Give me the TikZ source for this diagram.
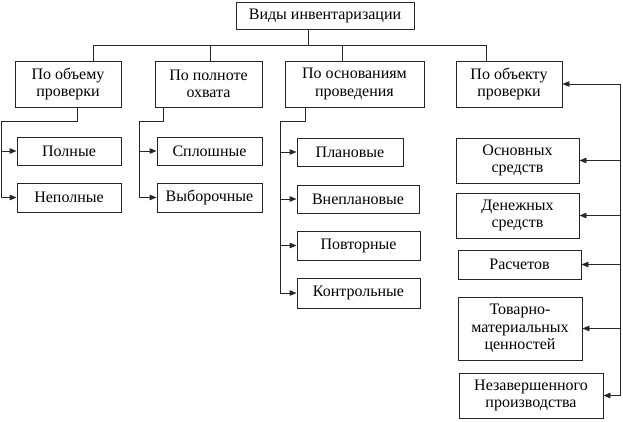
\documentclass[tikz,border=0pt]{standalone}
\usepackage{fontspec}
\setmainfont{Liberation Serif}
\usetikzlibrary{arrows.meta,calc}
\begin{document}
\begin{tikzpicture}[x=1pt,y=-1pt,
  box/.style={draw=black!85, line width=0.9pt, inner sep=0pt, align=center,
    font=\fontsize{16}{17.5}\selectfont, text=black},
  ln/.style={line width=0.9pt, draw=black!85},
  arr/.style={ln, -{Triangle[length=7pt,width=5.5pt]}}]
\useasboundingbox (0,0) rectangle (623,421);
% top
\node[box, minimum width=178pt, minimum height=27pt] (top) at (325,15.5) {Виды инвентаризации};
% level 1
\node[box, minimum width=106pt, minimum height=46pt] (b1) at (68,84) {По объему\\проверки};
\node[box, minimum width=107pt, minimum height=46pt] (b2) at (208.5,84) {По полноте\\охвата};
\node[box, minimum width=139pt, minimum height=46pt] (b3) at (354.5,84) {По основаниям\\проведения};
\node[box, minimum width=106pt, minimum height=46pt] (b4) at (509,84) {По объекту\\проверки};
% bus
\coordinate (bus) at (0,45);
\draw[ln] ([xshift=-17pt]top.south) -- ([xshift=-17pt]top.south |- bus);
\draw[ln] ([xshift=25pt]b1.north |- bus) -- ([xshift=-23pt]b4.north |- bus);
\draw[ln] ([xshift=25pt]b1.north |- bus) -- ([xshift=25pt]b1.north);
\draw[ln] ([xshift=1.5pt]b2.north |- bus) -- ([xshift=1.5pt]b2.north);
\draw[ln] ([xshift=-12.5pt]b3.north |- bus) -- ([xshift=-12.5pt]b3.north);
\draw[ln] ([xshift=-23pt]b4.north |- bus) -- ([xshift=-23pt]b4.north);
% group 1
\node[box, minimum width=104pt, minimum height=28pt] (p1) at (69,151) {Полные};
\node[box, minimum width=104pt, minimum height=29pt] (p2) at (69,197.5) {Неполные};
\coordinate (s1) at (1,121);
\draw[ln] ([xshift=9pt]b1.south) |- (s1) -- (s1 |- p2.west);
\draw[arr] (s1 |- p1.west) -- (p1.west);
\draw[arr] (s1 |- p2.west) -- (p2.west);
% group 2
\node[box, minimum width=105pt, minimum height=28pt] (q1) at (209.5,151) {Сплошные};
\node[box, minimum width=105pt, minimum height=29pt] (q2) at (209.5,197.5) {Выборочные};
\coordinate (s2) at (139,121);
\draw[ln] ([xshift=-45.5pt]b2.south) |- (s2) -- (s2 |- q2.west);
\draw[arr] (s2 |- q1.west) -- (q1.west);
\draw[arr] (s2 |- q2.west) -- (q2.west);
% group 3
\node[box, minimum width=106pt, minimum height=28pt] (r1) at (350,152) {Плановые};
\node[box, minimum width=122pt, minimum height=28pt] (r2) at (358,199) {Внеплановые};
\node[box, minimum width=123pt, minimum height=29pt] (r3) at (358.5,245.5) {Повторные};
\node[box, minimum width=123pt, minimum height=30pt] (r4) at (358.5,293) {Контрольные};
\coordinate (s3) at (280,121);
\draw[ln] ([xshift=-49.5pt]b3.south) |- (s3) -- (s3 |- r4.west);
\draw[arr] (s3 |- r1.west) -- (r1.west);
\draw[arr] (s3 |- r2.west) -- (r2.west);
\draw[arr] (s3 |- r3.west) -- (r3.west);
\draw[arr] (s3 |- r4.west) -- (r4.west);
% group 4
\node[box, minimum width=123pt, minimum height=45pt] (t1) at (517.5,160.5) {Основных\\средств};
\node[box, minimum width=123pt, minimum height=45pt] (t2) at (517.5,215.5) {Денежных\\средств};
\node[box, minimum width=123pt, minimum height=29pt] (t3) at (519.5,264.5) {Расчетов};
\node[box, minimum width=124pt, minimum height=63pt] (t4) at (520,328.5) {Товарно-\\материальных\\ценностей};
\node[box, minimum width=144pt, minimum height=45pt] (t5) at (531,395.5) {Незавершенного\\производства};
\coordinate (s4) at (620,0);
\draw[ln] (s4 |- b4.east) -- (s4 |- t5.east);
\draw[arr] (s4 |- b4.east) -- (b4.east);
\draw[arr] (s4 |- t1.east) -- (t1.east);
\draw[arr] (s4 |- t2.east) -- (t2.east);
\draw[arr] (s4 |- t3.east) -- (t3.east);
\draw[arr] (s4 |- t4.east) -- (t4.east);
\draw[arr] (s4 |- t5.east) -- (t5.east);
\end{tikzpicture}
\end{document}
